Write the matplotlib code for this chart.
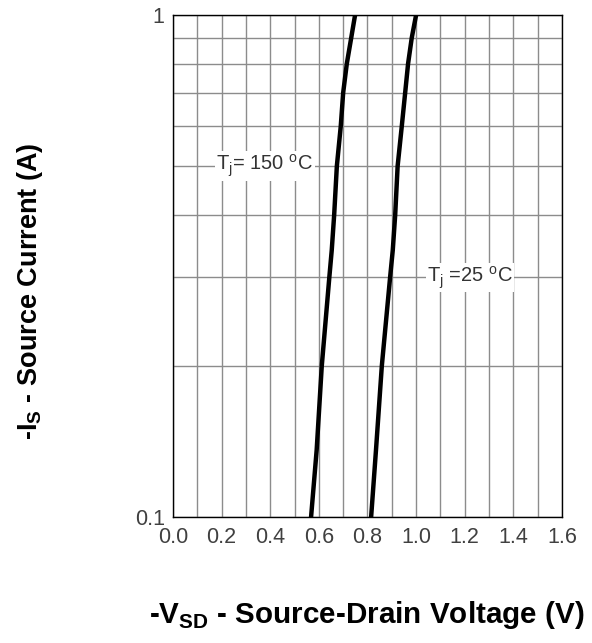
import matplotlib.pyplot as plt
from matplotlib.ticker import FixedLocator, NullFormatter

plt.rcParams['font.family'] = ['Liberation Sans', 'DejaVu Sans']

# source current (A) and matching source-drain voltage (V)
i_s = [0.1, 0.136, 0.2, 0.3, 0.34, 0.4, 0.5, 0.6, 0.7, 0.8, 0.9, 1.0]
v_150 = [0.568, 0.591, 0.612, 0.643, 0.653, 0.663, 0.674, 0.69, 0.70, 0.715, 0.733, 0.749]
v_25 = [0.815, 0.835, 0.859, 0.893, 0.904, 0.914, 0.924, 0.941, 0.955, 0.967, 0.982, 1.0]

x_ticks = [0.0, 0.2, 0.4, 0.6, 0.8, 1.0, 1.2, 1.4, 1.6]

fig = plt.figure(figsize=(5.92, 6.43), dpi=100)
ax = fig.add_axes([0.2922, 0.196, 0.6571, 0.7807])

ax.plot(v_150, i_s, color='black', lw=3.2, zorder=3)
ax.plot(v_25, i_s, color='black', lw=3.2, zorder=3)

ax.set_yscale('log')
ax.set_xlim(0, 1.6)
ax.set_ylim(0.1, 1)

ax.set_xticks(x_ticks)
ax.set_xticklabels(['%.1f' % v for v in x_ticks])
ax.xaxis.set_minor_locator(FixedLocator([i / 10 for i in range(17)]))
ax.set_yticks([0.1, 1])
ax.set_yticklabels(['0.1', '1'])
ax.yaxis.set_minor_locator(FixedLocator([0.2, 0.3, 0.4, 0.5, 0.6, 0.7, 0.8, 0.9]))
ax.yaxis.set_minor_formatter(NullFormatter())

ax.grid(True, which='both', color='#8c8c8c', lw=1.0)
ax.tick_params(which='both', length=0, labelsize=15.5, colors='#404040')
ax.tick_params(axis='x', pad=7)
ax.tick_params(axis='y', pad=6)
for s in ax.spines.values():
    s.set_linewidth(1.0)
    s.set_color('black')

ax.text(0.178, 0.5, r'T$_\mathregular{j}$= 150 $^\mathregular{o}$C', fontsize=14.5,
        color='#333333', va='center', ha='left', zorder=4,
        bbox=dict(facecolor='white', edgecolor='none', pad=1))
ax.text(1.045, 0.3, r'T$_\mathregular{j}$ =25 $^\mathregular{o}$C', fontsize=14.5,
        color='#333333', va='center', ha='left', zorder=4,
        bbox=dict(facecolor='white', edgecolor='none', pad=1))

fig.text(0.619, 0.043, r'-V$_\mathregular{SD}$ - Source-Drain Voltage (V)',
         fontsize=21.3, fontweight='bold', ha='center', va='center')
fig.text(0.05, 0.547, r'-I$_\mathregular{S}$ - Source Current (A)',
         fontsize=19.5, fontweight='bold', ha='center', va='center', rotation=90)

fig.savefig('out.png', dpi=100)
